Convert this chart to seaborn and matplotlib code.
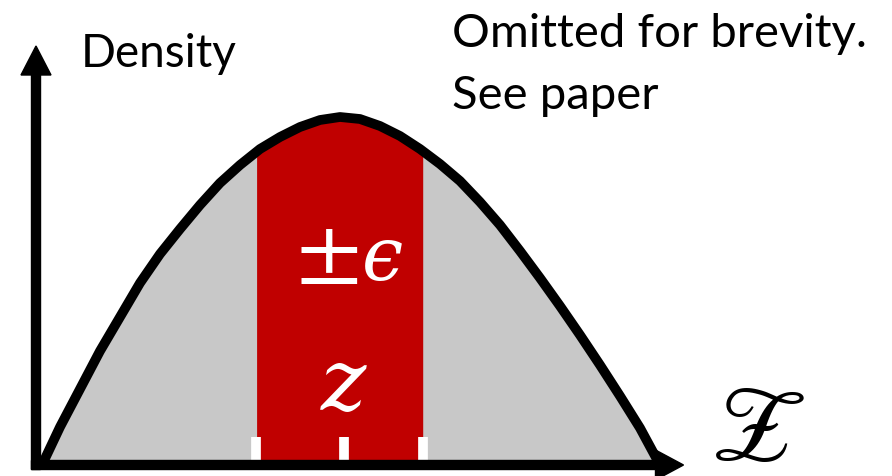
import numpy as np
import pandas as pd
import matplotlib.pyplot as plt
import seaborn as sns

# density curve (x along Z, y = density)
curve_x = [0.06, 0.24, 0.44, 0.64, 0.84, 1.04, 1.24, 1.44, 1.64, 1.84, 2.04, 2.24, 2.44,
           2.64, 2.84, 3.04, 3.24, 3.44, 3.64, 3.84, 4.04, 4.24, 4.44, 4.64, 4.84, 5.04,
           5.24, 5.44, 5.64, 5.84, 6.04, 6.24]
curve_y = [0.00, 0.38, 0.76, 1.14, 1.48, 1.82, 2.11, 2.36, 2.60, 2.82, 3.00, 3.16, 3.28,
           3.38, 3.45, 3.48, 3.46, 3.39, 3.29, 3.16, 3.01, 2.84, 2.63, 2.40, 2.14, 1.87,
           1.59, 1.30, 1.00, 0.69, 0.37, 0.00]

# the +/- epsilon band around z
band_lo = 2.20
z_val = 3.08
band_hi = 3.87

density_label = 'Density'
note_lines = ['Omitted for brevity.', 'See paper']

sns.set_theme(style='white')
plt.rcParams['font.family'] = ['Lato', 'DejaVu Sans']
plt.rcParams['mathtext.fontset'] = 'stix'

df = pd.DataFrame({'x': curve_x, 'y': curve_y})

fig = plt.figure(figsize=(8.92, 4.77), dpi=100)
ax = fig.add_axes([0, 0, 1, 1])
ax.set_xlim(-0.36, 8.56)
ax.set_ylim(-0.11, 4.66)
ax.axis('off')

# fills
xs = np.linspace(min(curve_x), max(curve_x), 600)
ys = np.interp(xs, df['x'], df['y'])
ax.fill_between(xs, 0, ys, color='#C8C8C8', lw=0)
ax.fill_between(xs, 0, ys, where=(xs >= band_lo) & (xs <= band_hi), color='#C00000', lw=0)

# curve
sns.lineplot(data=df, x='x', y='y', color='black', lw=7, ax=ax, sort=False)
ax.set_xlabel('')
ax.set_ylabel('')

# white marks at band edges and at z
ax.vlines([band_lo, z_val, band_hi], 0.05, 0.28, color='white', lw=7, zorder=4)

# axes with arrow heads
ax.arrow(-0.045, 0, 6.52, 0, width=0.09, head_width=0.30, head_length=0.28,
         length_includes_head=True, color='black', zorder=5)
ax.arrow(0, -0.045, 0, 4.235, width=0.09, head_width=0.30, head_length=0.29,
         length_includes_head=True, color='black', zorder=5)

# texts
ax.text(0.45, 3.99, density_label, fontsize=33, ha='left', va='baseline', color='black')
ax.text(4.16, 4.19, note_lines[0], fontsize=34, ha='left', va='baseline', color='black')
ax.text(4.16, 3.57, note_lines[1], fontsize=34, ha='left', va='baseline', color='black')

ax.text(2.60, 1.90, r'$\pm$', fontsize=68, ha='left', va='baseline', color='white', zorder=6)
ax.text(3.25, 1.86, '$\u03f5$', fontsize=53, ha='left', va='baseline', color='white',
        zorder=6, math_fontfamily='dejavuserif')
ax.text(3.08, 0.56, '$z$', fontsize=62, ha='center', va='baseline', color='white',
        zorder=6, math_fontfamily='dejavuserif')
ax.text(7.21, 0.06, r'$\mathscr{Z}$', fontsize=74, ha='center', va='baseline', color='black')

fig.savefig('out.png', dpi=100)
